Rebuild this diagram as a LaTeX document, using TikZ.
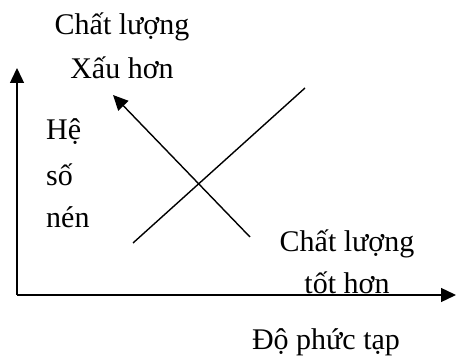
\documentclass[tikz,border=0pt]{standalone}
\usepackage{fontspec}
\setmainfont{Liberation Serif}
\usetikzlibrary{arrows.meta}
\begin{document}
\begin{tikzpicture}[x=1pt,y=-1pt,
  axis/.style={line width=1.4pt,-{Triangle[length=15pt,width=14pt]}},
  trend/.style={line width=1.4pt},
  lbl/.style={inner sep=0pt,font=\fontsize{30}{34}\selectfont},
  tip/.style={-{Triangle[length=15pt,width=14pt]}}]
\useasboundingbox (0,0) rectangle (456,358);
% axes
\coordinate (o) at (17,295);
\coordinate (ytop) at (17,68);
\coordinate (xend) at (456,295);
\draw[axis] (o) -- (ytop);
\draw[axis] (o) -- (xend);
% rising line and the arrow towards worse quality
\coordinate (r1) at (133,243);
\coordinate (r2) at (305,88);
\draw[trend] (r1) -- (r2);
\coordinate (a1) at (250,237);
\coordinate (a2) at (113,95);
\draw[trend,tip] (a1) -- (a2);
% labels
\node[lbl] (q1) at (122,27) {Chất lượng};
\node[lbl] (q2) at (122,68) {Xấu hơn};
\node[lbl,anchor=west] (h1) at (46,132) {Hệ};
\node[lbl,anchor=west] (h2) at (46,175) {số};
\node[lbl,anchor=west] (h3) at (46,217) {nén};
\node[lbl] (g1) at (347,244) {Chất lượng};
\node[lbl] (g2) at (347,283) {tốt hơn};
\node[lbl] (dx) at (326,342) {Độ phức tạp};
\end{tikzpicture}
\end{document}
